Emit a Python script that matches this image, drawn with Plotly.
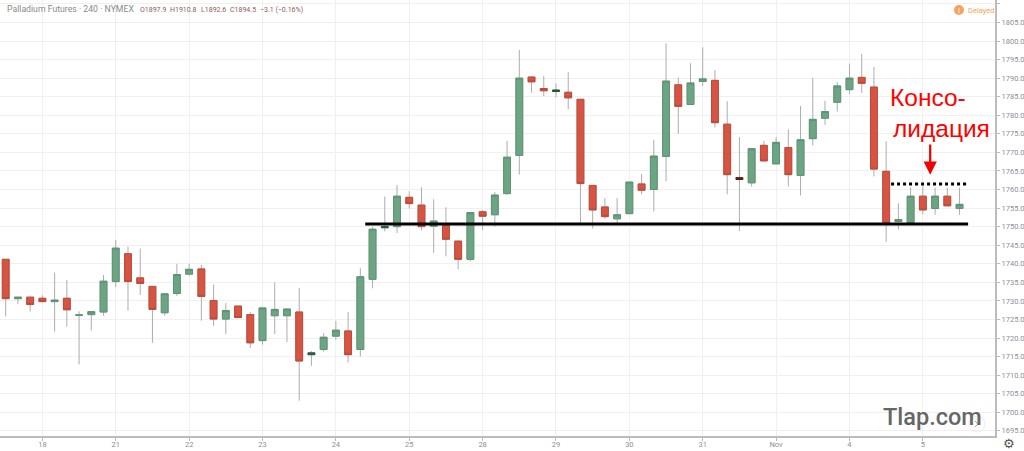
import plotly.graph_objects as go

# 4-hour palladium futures candles, oldest first
open_ = [1741.2,1730.6,1731.0,1730.7,1729.8,1730.7,1726.1,1726.3,1727.0,1735.2,1742.7,1736.2,1733.9,1726.8,1732.0,1737.2,1738.6,1730.1,1725.1,1728.6,1726.3,1719.3,1726.0,1726.0,1727.0,1715.5,1716.9,1720.5,1721.9,1716.9,
         1735.8,1749.7,1750.0,1757.9,1755.8,1750.1,1750.5,1746.1,1741.2,1754.0,1753.2,1758.9,1769.2,1790.3,1787.2,1786.4,1786.2,1784.3,1761.1,1755.3,1752.1,1753.5,1761.5,1760.0,1768.9,1788.2,
         1782.9,1789.1,1789.4,1777.6,1763.2,1761.8,1771.9,1766.9,1771.3,1763.8,1773.7,1779.2,1783.5,1786.9,1790.2,1787.6,1764.9,1751.4,1751.1,1758.2,1754.9,1758.2,1754.9]
high = [1741.2,1731.0,1731.0,1731.5,1737.6,1735.6,1727.2,1727.1,1737.0,1746.4,1744.6,1744.1,1733.9,1732.0,1740.0,1740.0,1739.7,1734.4,1729.4,1728.6,1727.0,1728.1,1735.0,1728.0,1733.5,1716.5,1721.3,1724.6,1727.0,1738.8,
        1750.0,1758.1,1761.2,1759.5,1760.6,1757.4,1755.2,1746.1,1753.8,1754.5,1759.3,1773.1,1797.6,1790.3,1790.6,1788.6,1791.6,1784.3,1761.1,1757.7,1757.7,1762.0,1764.2,1773.4,1799.4,1790.2,
        1794.0,1798.3,1792.2,1783.8,1774.1,1771.0,1773.1,1774.1,1776.2,1782.5,1790.1,1783.9,1788.9,1793.9,1796.5,1793.0,1773.0,1756.3,1760.6,1760.8,1760.5,1760.5,1760.5]
low = [1725.8,1729.2,1727.1,1729.8,1721.7,1723.1,1712.9,1722.0,1726.0,1733.7,1727.4,1731.6,1718.7,1726.0,1731.3,1736.8,1724.7,1723.3,1721.1,1725.5,1717.3,1718.2,1721.1,1718.9,1703.1,1712.5,1716.3,1719.5,1713.4,1715.0,
       1733.4,1748.7,1748.3,1754.9,1749.0,1742.9,1742.0,1738.5,1740.6,1749.0,1750.0,1758.5,1764.0,1786.1,1785.2,1784.8,1781.6,1750.9,1749.5,1752.1,1750.3,1753.5,1758.7,1754.1,1762.2,1775.0,
       1782.9,1787.9,1776.7,1758.7,1748.8,1760.8,1767.7,1766.9,1760.8,1758.4,1771.9,1777.4,1781.0,1785.7,1786.0,1763.5,1745.9,1749.3,1751.1,1753.3,1753.2,1755.6,1753.2]
close = [1730.6,1731.0,1729.0,1729.8,1730.2,1727.6,1726.2,1727.1,1735.3,1744.2,1735.2,1734.7,1727.7,1731.9,1737.1,1738.5,1731.2,1725.1,1727.4,1725.5,1718.7,1728.1,1727.7,1727.8,1713.8,1716.0,1720.2,1722.1,1715.5,1736.5,
         1749.3,1750.0,1758.2,1756.2,1750.0,1751.5,1746.6,1741.2,1753.8,1752.8,1758.5,1768.7,1790.0,1789.0,1786.6,1786.8,1784.7,1761.6,1754.5,1752.7,1753.2,1762.0,1759.8,1769.0,1789.2,1782.4,
         1788.7,1789.8,1778.0,1764.0,1762.7,1771.0,1767.7,1772.7,1764.0,1773.4,1778.9,1781.0,1787.9,1790.0,1788.6,1765.5,1750.9,1751.9,1758.2,1754.5,1758.2,1755.6,1756.0]

# Bars so thin that only their dark outline shows
thin_bars = [25, 31, 45, 60]

date_ticks = [3, 9, 15, 21, 27, 33, 39, 45, 51, 57, 63, 69, 75]
date_labels = ["18", "21", "22", "23", "24", "25", "28", "29", "30", "31", "Nov", "4", "5"]
price_ticks = list(range(1695, 1815, 5))

support_level = 1750.7
resistance_level = 1761.5
support_span = [29.4, 78.7]
resistance_span = [72.4, 78.6]
arrow_bar = 75.6
arrow_from, arrow_to = 1772.5, 1764.0

W, H = 1024, 451
PLOT_W, PLOT_H = 995, 436
candle_x = list(range(len(open_)))

UP, DOWN = "#6ba583", "#d75442"
UP_EDGE, DOWN_EDGE = "#5c9474", "#bd4a39"
UP_DARK, DOWN_DARK = "#225437", "#5b1a13"
WICK = "#adadad"
GRID = "#f0f0f0"
AXIS = "#bcbcbc"
TICK_TEXT = "#8a8f99"


def px(x):
    return x / W


def py(y):
    return 1 - y / H


def bodies(bars, up_edge, down_edge):
    """Candle bodies only: high and low collapse onto the open/close range."""
    o = [open_[i] for i in bars]
    c = [close[i] for i in bars]
    return go.Candlestick(
        x=bars, open=o, close=c,
        high=[max(a, b) for a, b in zip(o, c)],
        low=[min(a, b) for a, b in zip(o, c)],
        increasing=dict(line=dict(color=up_edge, width=1), fillcolor=UP),
        decreasing=dict(line=dict(color=down_edge, width=1), fillcolor=DOWN),
        whiskerwidth=0, showlegend=False,
    )


fig = go.Figure()

# Wicks sit in their own trace so they can be a lighter grey than the body outline
fig.add_trace(go.Candlestick(
    x=candle_x, open=open_, high=high, low=low, close=close,
    increasing=dict(line=dict(color=WICK, width=1), fillcolor="rgba(0,0,0,0)"),
    decreasing=dict(line=dict(color=WICK, width=1), fillcolor="rgba(0,0,0,0)"),
    whiskerwidth=0, hoverinfo="skip", showlegend=False,
))
fig.add_trace(bodies([i for i in candle_x if i not in thin_bars], UP_EDGE, DOWN_EDGE))
fig.add_trace(bodies(thin_bars, UP_DARK, DOWN_DARK))

# Support, top of the range, and the arrow pointing at it
fig.add_trace(go.Scatter(x=support_span, y=[support_level] * 2, mode="lines",
                         line=dict(color="#000000", width=3), showlegend=False))
fig.add_trace(go.Scatter(x=resistance_span, y=[resistance_level] * 2, mode="lines",
                         line=dict(color="#000000", width=3, dash="3px 3px"), showlegend=False))

annotations = [
    dict(x=arrow_bar, y=arrow_to, ax=arrow_bar, ay=arrow_from, xref="x", yref="y", axref="x", ayref="y",
         showarrow=True, arrowhead=2, arrowsize=1.2, arrowwidth=2.2, arrowcolor="#f00000", text=""),
]


def label(x, y, text, size, color, anchor="left", family="Liberation Sans", weight=None):
    annotations.append(dict(x=px(x), y=py(y), xref="paper", yref="paper", text=text, showarrow=False,
                            xanchor=anchor, yanchor="middle", align=anchor, borderpad=0,
                            font=dict(size=size, color=color, family=family, weight=weight)))


label(6, 9, "Palladium Futures · 240 · NYMEX", 8.7, "#8a8a8a", family="Roboto")
label(139, 10, "O1897.9", 7, "#8d5a5a", family="Roboto")
label(169, 10, "H1910.8", 7, "#8d5a5a", family="Roboto")
label(200, 10, "L1892.6", 7, "#8d5a5a", family="Roboto")
label(229, 10, "C1894.5", 7, "#8d5a5a", family="Roboto")
label(259, 10, "−3.1 (−0.16%)", 7, "#8d5a5a", family="Roboto")
label(967, 10, "Delayed", 7.5, "#f7a35c", family="Roboto")
label(959, 10, "!", 8, "#ffffff", anchor="center", family="Roboto")
label(889, 97, "Консо-", 24.5, "#ff0000")
label(892, 128, "лидация", 24.5, "#ff0000")
label(882, 417, "Tlap.com", 23.5, "#666666", family="Roboto", weight=500)
label(1009, 443, "⚙", 13, "#555555", anchor="center", family="DejaVu Sans")

shapes = [
    # Delayed badge
    dict(type="circle", xref="paper", yref="paper", x0=px(954), x1=px(964), y0=py(15), y1=py(5),
         fillcolor="#f7a35c", line=dict(width=0), layer="above"),
    # Scroll-to-latest button and its chevron
    dict(type="circle", xref="paper", yref="paper", x0=px(969), x1=px(985), y0=py(432), y1=py(416),
         fillcolor="rgba(255,255,255,0.6)", line=dict(width=1, color="#eeeeee"), layer="below"),
    dict(type="line", xref="paper", yref="paper", x0=px(975), x1=px(978), y0=py(421), y1=py(424),
         line=dict(width=1, color="#999999"), layer="below"),
    dict(type="line", xref="paper", yref="paper", x0=px(978), x1=px(975), y0=py(424), y1=py(427),
         line=dict(width=1, color="#999999"), layer="below"),
]

fig.update_layout(
    width=W, height=H, autosize=False,
    margin=dict(l=0, r=0, t=0, b=0, pad=0),
    paper_bgcolor="#ffffff", plot_bgcolor="#ffffff",
    annotations=annotations, shapes=shapes, showlegend=False,
    boxgap=0.2,
    xaxis=dict(domain=[0, PLOT_W / W], range=[-0.466, 80.9], rangeslider=dict(visible=False), tickmode="array",
               tickvals=date_ticks, ticktext=date_labels, showgrid=True, gridcolor=GRID, gridwidth=1,
               showline=True, linecolor=AXIS, linewidth=2, ticks="outside", ticklen=3, tickcolor=AXIS,
               ticklabelstandoff=-3,
               tickfont=dict(size=7.5, color=TICK_TEXT, family="Roboto"), zeroline=False),
    yaxis=dict(domain=[1 - PLOT_H / H, 1], range=[1693.6, 1811.05], side="right", tickmode="array",
               tickvals=price_ticks, tickformat=".1f", showgrid=True, gridcolor=GRID, gridwidth=1,
               showline=True, linecolor=AXIS, linewidth=2, ticks="outside", ticklen=3, tickcolor=AXIS,
               tickfont=dict(size=7.5, color=TICK_TEXT, family="Roboto"), zeroline=False),
)

fig.write_html("out.html", config=dict(displayModeBar=False))
